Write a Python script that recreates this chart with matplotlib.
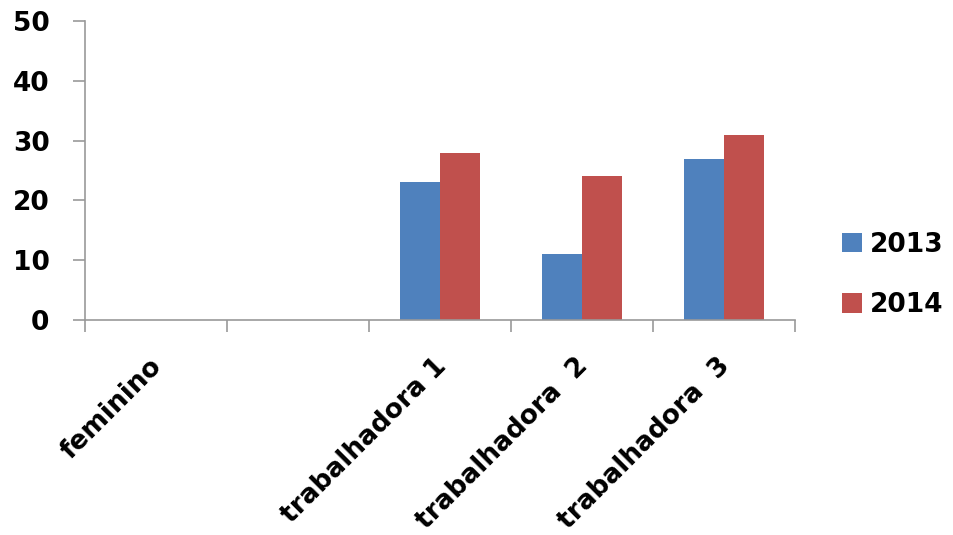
import matplotlib
matplotlib.use("Agg")
import matplotlib.pyplot as plt
import matplotlib.transforms as mtransforms
import numpy as np
from matplotlib.patches import Patch

categories = ["feminino", "", "trabalhadora 1", "trabalhadora  2", "trabalhadora  3"]
series_names = ["2013", "2014"]
values_2013 = [np.nan, np.nan, 23, 11, 27]
values_2014 = [np.nan, np.nan, 28, 24, 31]
y_ticks = [0, 10, 20, 30, 40, 50]

colors = ["#4F81BD", "#C0504D"]
axis_grey = "#999999"
fs = 19

plt.rcParams["font.family"] = ["DejaVu Sans"]
fig = plt.figure(figsize=(9.54, 5.35), dpi=100)
ax = fig.add_axes([85 / 954, 1 - 320 / 535, (795 - 85) / 954, (320 - 21) / 535])

x = np.arange(len(categories))
w = 0.28
ax.bar(x - w / 2, values_2013, width=w, color=colors[0], edgecolor="none")
ax.bar(x + w / 2, values_2014, width=w, color=colors[1], edgecolor="none")

ax.set_xlim(-0.5, len(categories) - 0.5)
ax.set_ylim(0, 50)
ax.set_yticks(y_ticks)
ax.set_yticklabels([str(t) for t in y_ticks], fontsize=fs, fontweight="bold")

ax.set_xticks(x)
ax.set_xticklabels(categories, rotation=45, ha="right", rotation_mode="anchor",
                   fontsize=fs, fontweight="bold")
ax.tick_params(axis="x", which="major", length=0, pad=24)
shift = mtransforms.ScaledTranslation(-7 / 100, 0, fig.dpi_scale_trans)
for lbl in ax.get_xticklabels():
    lbl.set_transform(lbl.get_transform() + shift)
ax.set_xticks(np.arange(-0.5, len(categories)), minor=True)
ax.tick_params(axis="x", which="minor", length=8.6, color=axis_grey, width=1.2, direction="out")
ax.tick_params(axis="y", length=8.6, color=axis_grey, width=1.2, pad=17)

for s in ["top", "right"]:
    ax.spines[s].set_visible(False)
for s in ["left", "bottom"]:
    ax.spines[s].set_color(axis_grey)
    ax.spines[s].set_linewidth(1.2)

handles = [Patch(facecolor=c, edgecolor="none") for c in colors]
fig.legend(handles, series_names, loc="center left", bbox_to_anchor=(818 / 954, 1 - 275 / 535),
           frameon=False, prop={"size": fs, "weight": "bold"}, handlelength=0.76, handleheight=0.76,
           handletextpad=0.3, labelspacing=1.3, borderpad=0.4)

fig.savefig("out.png", dpi=100, facecolor="white")
